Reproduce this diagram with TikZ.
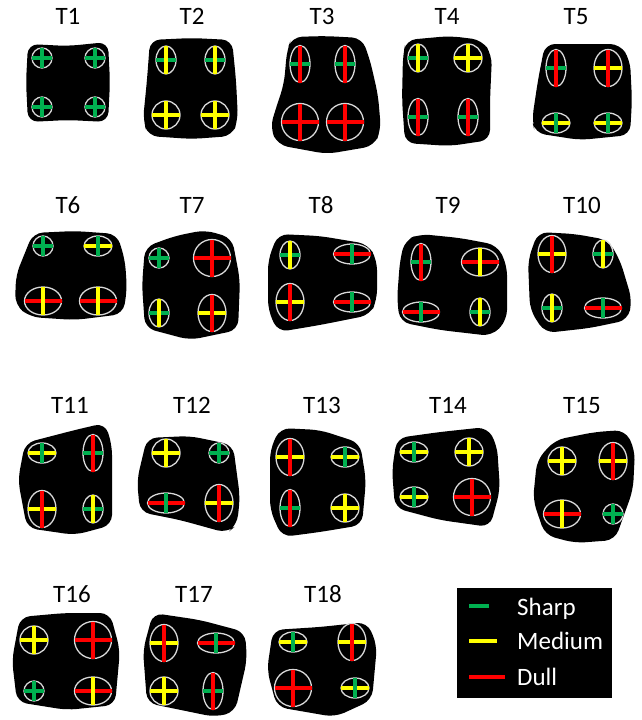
\documentclass[tikz,border=0pt]{standalone}
\usepackage{fontspec}
\setmainfont{Carlito}
\definecolor{sharpc}{HTML}{00B050}
\definecolor{mediumc}{HTML}{FFFF00}
\definecolor{dullc}{HTML}{FF0000}
\definecolor{rimc}{HTML}{D8D8D8}
\newcommand{\radsharp}{10}
\newcommand{\radmedium}{14}
\newcommand{\raddull}{18.5}
% centre x, centre y, grade of the horizontal bar, grade of the vertical bar
\newcommand{\cusp}[4]{%
  \draw[rim] (#1,#2) ellipse [x radius=\csname rad#3\endcsname pt,
                              y radius=\csname rad#4\endcsname pt];
  \draw[bar,#3c] ({#1-\csname rad#3\endcsname},#2) -- ({#1+\csname rad#3\endcsname},#2);
  \draw[bar,#4c] (#1,{#2-\csname rad#4\endcsname}) -- (#1,{#2+\csname rad#4\endcsname});
}
\begin{document}
\begin{tikzpicture}[x=1pt,y=-1pt,
  blob/.style={fill=black,rounded corners=10pt},
  rim/.style={draw=rimc,line width=1.3pt},
  bar/.style={line width=3.3pt},
  lab/.style={font=\fontsize{25}{29}\selectfont,anchor=base,inner sep=0pt},
  key/.style={font=\fontsize{25}{29}\selectfont,text=white,anchor=base west,inner sep=0pt},
]
\useasboundingbox (0,0) rectangle (641,720);

% row 1
\node[lab] (t1) at (68,24) {T1};
\node[lab] (t2) at (192,24) {T2};
\node[lab] (t3) at (322,24) {T3};
\node[lab] (t4) at (447,24) {T4};
\node[lab] (t5) at (576,24) {T5};
\fill[blob] (28,44) -- (68,46) -- (108,42) -- (110,82) -- (108,122) -- (68,120) -- (28,122) -- (26,82) -- cycle;
\fill[blob] (150,40) -- (192,38) -- (232,40) -- (236,80) -- (238,120) -- (232,136) -- (192,139) -- (148,136) -- (143,120) -- (147,80) -- cycle;
\fill[blob] (292,37) -- (325,36) -- (362,38) -- (370,60) -- (378,95) -- (381,130) -- (374,146) -- (327,154) -- (278,145) -- (270,128) -- (276,108) -- (284,84) -- (287,50) -- cycle;
\fill[blob] (406,40) -- (450,36) -- (482,40) -- (492,55) -- (490,100) -- (490,140) -- (450,146) -- (405,143) -- (402,100) -- (403,55) -- cycle;
\fill[blob] (545,44) -- (620,44) -- (630,60) -- (632,100) -- (630,135) -- (580,140) -- (535,133) -- (532,120) -- (538,80) -- cycle;
\cusp{42}{58}{sharp}{sharp}   \cusp{95}{58}{sharp}{sharp}
\cusp{42}{107}{sharp}{sharp}  \cusp{95}{107}{sharp}{sharp}
\cusp{166}{60}{sharp}{medium} \cusp{215}{60}{sharp}{medium}
\cusp{166}{115}{medium}{medium} \cusp{215}{115}{medium}{medium}
\cusp{300}{64}{sharp}{dull}   \cusp{345}{64}{sharp}{dull}
\cusp{300}{122}{dull}{dull}   \cusp{345}{122}{dull}{dull}
\cusp{418}{58}{sharp}{medium} \cusp{468}{58}{medium}{medium}
\cusp{418}{117}{sharp}{dull}  \cusp{468}{117}{sharp}{dull}
\cusp{556}{68}{sharp}{dull}   \cusp{608}{68}{medium}{dull}
\cusp{556}{123}{medium}{sharp} \cusp{608}{123}{medium}{sharp}

% row 2
\node[lab] (t6) at (68,213) {T6};
\node[lab] (t7) at (192,213) {T7};
\node[lab] (t8) at (321,213) {T8};
\node[lab] (t9) at (448,213) {T9};
\node[lab] (t10) at (582,213) {T10};
\fill[blob] (33,233) -- (75,231) -- (117,234) -- (125,260) -- (127,290) -- (123,314) -- (75,320) -- (30,317) -- (15,305) -- (16,275) -- cycle;
\fill[blob] (145,247) -- (175,236) -- (205,230) -- (232,238) -- (240,280) -- (238,330) -- (190,340) -- (145,328) -- (142,285) -- cycle;
\fill[blob] (278,234) -- (320,236) -- (368,244) -- (377,260) -- (377,300) -- (370,315) -- (320,325) -- (278,332) -- (268,310) -- (268,260) -- cycle;
\fill[blob] (405,240) -- (420,234) -- (460,238) -- (497,245) -- (507,265) -- (507,320) -- (492,336) -- (440,330) -- (400,322) -- (397,300) -- (400,260) -- cycle;
\fill[blob] (538,232) -- (575,234) -- (608,240) -- (620,260) -- (632,300) -- (628,320) -- (590,328) -- (545,333) -- (530,310) -- (528,260) -- cycle;
\cusp{43}{246}{sharp}{sharp}  \cusp{98}{246}{medium}{sharp}
\cusp{43}{301}{dull}{medium}  \cusp{98}{301}{dull}{medium}
\cusp{159}{258}{sharp}{sharp} \cusp{212}{258}{dull}{dull}
\cusp{159}{313}{sharp}{medium} \cusp{212}{313}{medium}{dull}
\cusp{290}{255}{sharp}{medium} \cusp{352}{254}{dull}{sharp}
\cusp{290}{302}{medium}{dull} \cusp{352}{302}{dull}{sharp}
\cusp{421}{262}{sharp}{dull}  \cusp{480}{262}{dull}{medium}
\cusp{421}{312}{dull}{sharp}  \cusp{480}{312}{sharp}{medium}
\cusp{552}{254}{medium}{dull} \cusp{603}{254}{sharp}{medium}
\cusp{552}{308}{sharp}{medium} \cusp{603}{308}{dull}{sharp}

% row 3
\node[lab] (t11) at (70,413) {T11};
\node[lab] (t12) at (192,413) {T12};
\node[lab] (t13) at (322,413) {T13};
\node[lab] (t14) at (448,413) {T14};
\node[lab] (t15) at (582,413) {T15};
\fill[blob] (25,443) -- (75,430) -- (105,423) -- (112,445) -- (112,525) -- (75,535) -- (27,528) -- (18,480) -- cycle;
\fill[blob] (147,438) -- (190,436) -- (233,445) -- (240,497) -- (237,525) -- (227,533) -- (180,520) -- (140,512) -- (137,480) -- cycle;
\fill[blob] (280,428) -- (320,430) -- (360,443) -- (366,480) -- (362,525) -- (320,532) -- (282,537) -- (270,510) -- (270,450) -- cycle;
\fill[blob] (397,438) -- (440,432) -- (487,427) -- (497,445) -- (500,490) -- (490,527) -- (440,520) -- (395,508) -- (392,470) -- cycle;
\fill[blob] (555,440) -- (595,432) -- (625,430) -- (635,450) -- (633,490) -- (615,540) -- (575,543) -- (545,535) -- (533,500) -- (537,460) -- cycle;
\cusp{42}{453}{medium}{sharp} \cusp{93}{453}{sharp}{dull}
\cusp{42}{509}{medium}{dull}  \cusp{93}{509}{sharp}{medium}
\cusp{166}{453}{medium}{medium} \cusp{219}{453}{sharp}{sharp}
\cusp{166}{503}{dull}{sharp}  \cusp{219}{503}{medium}{dull}
\cusp{290}{457}{medium}{dull} \cusp{345}{457}{medium}{sharp}
\cusp{290}{508}{sharp}{dull}  \cusp{345}{508}{medium}{medium}
\cusp{414}{452}{medium}{sharp} \cusp{469}{452}{medium}{medium}
\cusp{414}{497}{medium}{sharp} \cusp{472}{497}{dull}{dull}
\cusp{562}{461}{medium}{medium} \cusp{613}{461}{medium}{dull}
\cusp{562}{514}{dull}{medium} \cusp{613}{514}{sharp}{sharp}

% row 4
\node[lab] (t16) at (72,602) {T16};
\node[lab] (t17) at (194,602) {T17};
\node[lab] (t18) at (323,602) {T18};
\fill[blob] (20,617) -- (65,613) -- (110,613) -- (120,650) -- (115,705) -- (67,710) -- (17,702) -- (12,660) -- cycle;
\fill[blob] (153,613) -- (200,620) -- (245,632) -- (247,660) -- (235,712) -- (215,717) -- (147,703) -- (143,650) -- cycle;
\fill[blob] (273,630) -- (320,627) -- (367,622) -- (377,645) -- (372,700) -- (335,717) -- (277,707) -- (267,670) -- cycle;
\cusp{34}{640}{medium}{medium} \cusp{93}{640}{dull}{dull}
\cusp{34}{691}{sharp}{sharp}  \cusp{93}{691}{dull}{medium}
\cusp{164}{643}{medium}{dull} \cusp{216}{643}{dull}{sharp}
\cusp{164}{691}{medium}{medium} \cusp{213}{691}{sharp}{dull}
\cusp{293}{642}{medium}{sharp} \cusp{352}{642}{medium}{dull}
\cusp{293}{688}{dull}{dull}   \cusp{355}{688}{medium}{sharp}

% legend
\fill[black] (457,588) rectangle (612,698);
\draw[bar,sharpc] (469,606) -- (489,606);
\draw[bar,mediumc] (469,641) -- (497,641);
\draw[bar,dullc] (469,677) -- (505,677);
\node[key] (ksharp) at (517,615) {Sharp};
\node[key] (kmedium) at (517,649) {Medium};
\node[key] (kdull) at (517,685) {Dull};
\end{tikzpicture}
\end{document}
